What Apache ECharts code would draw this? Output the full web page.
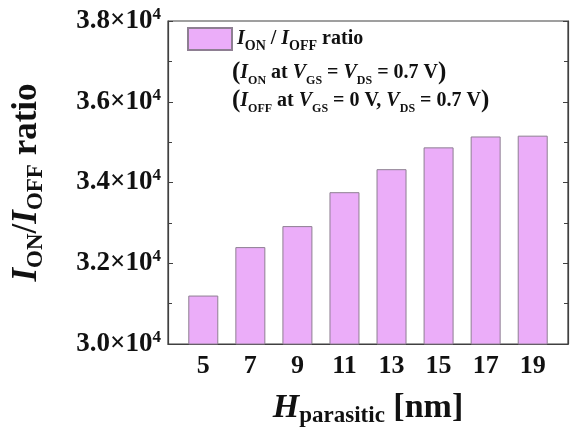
<!DOCTYPE html>
<html>
<head>
<meta charset="utf-8">
<script src="https://cdn.jsdelivr.net/npm/echarts@6/dist/echarts.min.js"></script>
<style>
  html, body { margin: 0; padding: 0; background: #fff; }
  #chart { width: 575px; height: 427px; }
</style>
</head>
<body>
<div id="chart"></div>
<script>
// Parasitic height sweep and the resulting on/off current ratio
const heights = [5, 7, 9, 11, 13, 15, 17, 19];
const ratios = [31200, 32400, 32920, 33760, 34330, 34870, 35140, 35160];
const yTicks = [30000, 32000, 34000, 36000, 38000];

const SERIF = "'Liberation Serif', 'Times New Roman', serif";
const BAR_FILL = '#ebadf9';
const BAR_EDGE = '#8e7f92';
const AXIS = '#404040';

const chart = echarts.init(document.getElementById('chart'), null, { renderer: 'canvas' });

// rich-text helpers for subscripts / superscripts
function mainStyle(size, lh, italic) {
  return { fontFamily: SERIF, fontWeight: 'bold', fontStyle: italic ? 'italic' : 'normal',
           fontSize: size, lineHeight: lh, color: '#111' };
}
function subStyle(size, lh) {
  return { fontFamily: SERIF, fontWeight: 'bold', fontSize: size, lineHeight: lh,
           verticalAlign: 'bottom', color: '#111' };
}

const option = {
  animation: false,
  backgroundColor: '#fff',
  grid: {
    left: 168, top: 21, width: 400, height: 323,
    outerBoundsMode: 'none', containLabel: false,
    show: true, borderColor: AXIS, borderWidth: 1.2, backgroundColor: 'transparent'
  },
  title: {
    left: 232, top: 59, padding: 0,
    text: '{p|(}{i|I}{s|ON}{n| at }{i|V}{s|GS}{n| = }{i|V}{s|DS}{n| = 0.7 V}{p|)}\n' +
          '{p|(}{i|I}{s|OFF}{n| at }{i|V}{s|GS}{n| = 0 V, }{i|V}{s|DS}{n| = 0.7 V}{p|)}',
    textStyle: {
      rich: {
        p: mainStyle(25, 28, false),
        i: mainStyle(20, 28, true),
        n: mainStyle(20, 28, false),
        s: subStyle(12, 16)
      }
    }
  },
  legend: {
    left: 187, top: 27, padding: 0,
    itemWidth: 44, itemHeight: 22, itemGap: 4,
    icon: 'rect',
    data: ['ratio'],
    formatter: () => '{i|I}{s|ON}{n| / }{i|I}{s|OFF}{n| ratio}',
    textStyle: {
      rich: {
        i: mainStyle(20, 28, true),
        n: mainStyle(20, 28, false),
        s: subStyle(14, 17)
      }
    }
  },
  xAxis: [{
    type: 'value', min: 3.5, max: 20.5,
    name: '{i|H}{s|parasitic}{n| [nm]}',
    nameLocation: 'middle', nameGap: 44,
    nameTextStyle: {
      rich: {
        i: mainStyle(34, 40, true),
        n: mainStyle(34, 40, false),
        s: subStyle(23, 24)
      }
    },
    axisLine: { show: true, onZero: false, lineStyle: { color: AXIS, width: 1.2 } },
    axisTick: { show: false },
    splitLine: { show: false },
    axisLabel: {
      customValues: heights,
      margin: 9,
      fontFamily: SERIF, fontWeight: 'bold', fontSize: 26, color: '#111'
    }
  }],
  yAxis: [{
    type: 'value', min: 30000, max: 38000, interval: 2000,
    name: '{i|I}{s|ON}{n|/}{i|I}{s|OFF}{n| ratio}',
    nameLocation: 'middle', nameGap: 120, nameRotate: 90,
    nameTextStyle: {
      rich: {
        i: mainStyle(35, 42, true),
        n: mainStyle(35, 42, false),
        s: subStyle(23, 24)
      }
    },
    axisLine: { show: true, lineStyle: { color: AXIS, width: 1.2 } },
    axisTick: { show: true, inside: true, length: 5, lineStyle: { color: AXIS } },
    minorTick: { show: true, splitNumber: 2, length: 4, lineStyle: { color: AXIS } },
    splitLine: { show: false },
    axisLabel: {
      margin: 7,
      formatter: v => yTicks.includes(v) ? '{n|' + (v / 1e4).toFixed(1) + '×10}{u|4}' : '',
      rich: {
        n: { fontFamily: SERIF, fontWeight: 'bold', fontSize: 27, lineHeight: 30, color: '#111' },
        u: { fontFamily: SERIF, fontWeight: 'bold', fontSize: 17, lineHeight: 17,
             verticalAlign: 'top', color: '#111' }
      }
    }
  }, {
    type: 'value', min: 30000, max: 38000, interval: 2000, position: 'right',
    axisLine: { show: true, lineStyle: { color: AXIS, width: 1.2 } },
    axisTick: { show: true, inside: true, length: 5, lineStyle: { color: AXIS } },
    minorTick: { show: true, splitNumber: 2, length: 4, lineStyle: { color: AXIS } },
    splitLine: { show: false },
    axisLabel: { show: false }
  }],
  series: [{
    name: 'ratio',
    type: 'bar',
    barWidth: 30,
    clip: true,
    data: heights.map((h, k) => [h, ratios[k]]),
    itemStyle: { color: BAR_FILL, borderColor: BAR_EDGE, borderWidth: 1 }
  }]
};

chart.setOption(option);
</script>
</body>
</html>
